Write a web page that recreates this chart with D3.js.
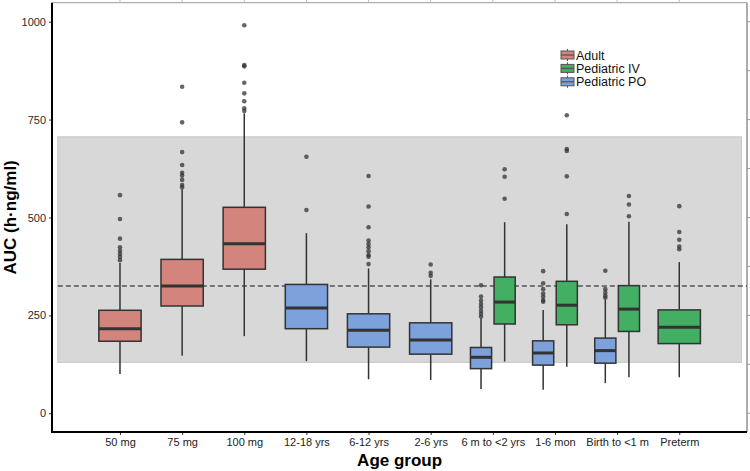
<!DOCTYPE html>
<html><head><meta charset="utf-8">
<script src="https://cdn.jsdelivr.net/npm/d3@7"></script>
<style>body{margin:0;background:#fff}svg{display:block;font-family:"Liberation Sans",Arial,sans-serif}</style>
</head><body><svg id="c" width="750" height="471"></svg>
<script>
const categories = ["50 mg","75 mg","100 mg","12-18 yrs","6-12 yrs","2-6 yrs","6 m to <2 yrs","1-6 mon","Birth to <1 m","Preterm"];
const groups = ["Adult","Pediatric IV","Pediatric PO"];
const yTicks = [0,250,500,750,1000];
// one entry per box
const boxCategory = ["50 mg","75 mg","100 mg","12-18 yrs","6-12 yrs","2-6 yrs","6 m to <2 yrs","6 m to <2 yrs","1-6 mon","1-6 mon","Birth to <1 m","Birth to <1 m","Preterm"];
const boxGroup = ["Adult","Adult","Adult","Pediatric PO","Pediatric PO","Pediatric PO","Pediatric PO","Pediatric IV","Pediatric PO","Pediatric IV","Pediatric PO","Pediatric IV","Pediatric IV"];
const whiskerLow = [100,147,197,133,87,85,62,132,60,119,77,92,92];
const q1 = [184,274,368,216,169,151,114,228,123,226,128,209,178];
const median = [216,325,433,269,212,187,143,284,154,276,160,266,220];
const q3 = [263,393,526,329,254,231,168,348,185,337,192,326,264];
const whiskerHigh = [384,572,766,460,370,342,243,488,264,483,290,489,386];
const outliers = [
  [557,496,446,424,415,407,399,391],
  [834,743,667,634,614,607,596,583,577],
  [991,889,886,844,817,797,779,772],
  [655,519],
  [606,528,475,441,432,424,414,404,400,381],
  [380,359,351],
  [327,298,288,279,271,262,254,247],
  [623,604,548],
  [363,332,317,306,298,289,285],
  [761,675,670,605,509],
  [364,317,308,300,295],
  [555,533,503],
  [529,463,443,426,419]
];
const refBand = [130,706];
const refLine = 325;

const colors = {"Adult":"#D3847D","Pediatric IV":"#43AF62","Pediatric PO":"#7DA1DB"};
const FONT = '"Liberation Sans",Arial,sans-serif';
const svg = d3.select("#c");
const L=52,R=747,T=2.7,B=432;
const x = d3.scaleLinear().domain([-0.094,11.09]).range([L,R]);
const y = d3.scaleLinear().domain([-47.8,1048.5]).range([B,T]);
const catIdx = c => categories.indexOf(c)+1;

const perCat = {};
boxCategory.forEach((c,i)=>{(perCat[c]=perCat[c]||[]).push(i);});

// frame (top/right light)
svg.append("line").attr("x1",L).attr("x2",R).attr("y1",T).attr("y2",T).attr("stroke","#9a9a9a").attr("stroke-width",1);
svg.append("line").attr("x1",R).attr("x2",R).attr("y1",T).attr("y2",B).attr("stroke","#777").attr("stroke-width",1.2);
categories.forEach(c=>{svg.append("line").attr("x1",x(catIdx(c))).attr("x2",x(catIdx(c))).attr("y1",T).attr("y2",T-3).attr("stroke","#bbb");});
d3.range(0,1001,125).forEach(v=>{svg.append("line").attr("x1",R).attr("x2",R+3).attr("y1",y(v)).attr("y2",y(v)).attr("stroke","#999");});

// reference band
svg.append("rect").attr("x",x(0)).attr("width",x(11)-x(0)).attr("y",y(refBand[1])).attr("height",y(refBand[0])-y(refBand[1]))
  .attr("fill","#d8d8d8").attr("stroke","#c6c6c6").attr("stroke-width",1);
// reference line
svg.append("line").attr("x1",x(0)).attr("x2",R).attr("y1",y(refLine)).attr("y2",y(refLine))
  .attr("stroke","#111").attr("stroke-width",1.2).attr("stroke-dasharray","5,3");

const fullW = 0.68;
boxCategory.forEach((c,i)=>{
  const list = perCat[c];
  let cx = catIdx(c), w = fullW;
  if(list.length===2){ const k=list.indexOf(i); w=0.34; cx += (k===0?-0.19:0.19); }
  const g = svg.append("g");
  const px = x(cx), hw = (x(w)-x(0))/2;
  g.append("line").attr("x1",px).attr("x2",px).attr("y1",y(whiskerLow[i])).attr("y2",y(q1[i])).attr("stroke","#333").attr("stroke-width",1.5);
  g.append("line").attr("x1",px).attr("x2",px).attr("y1",y(q3[i])).attr("y2",y(whiskerHigh[i])).attr("stroke","#333").attr("stroke-width",1.5);
  g.append("rect").attr("x",px-hw).attr("width",2*hw).attr("y",y(q3[i])).attr("height",y(q1[i])-y(q3[i]))
    .attr("fill",colors[boxGroup[i]]).attr("stroke","#333").attr("stroke-width",1.5);
  g.append("line").attr("x1",px-hw).attr("x2",px+hw).attr("y1",y(median[i])).attr("y2",y(median[i])).attr("stroke","#333").attr("stroke-width",3);
  g.selectAll("circle").data(outliers[i]).join("circle").attr("cx",px).attr("cy",d=>y(d)).attr("r",2.3)
    .attr("fill","#333").attr("fill-opacity",0.75);
});

// axes
const yAxis = svg.append("g").attr("transform",`translate(${L},0)`).call(d3.axisLeft(y).tickValues(yTicks).tickFormat(d3.format("d")).tickSize(3).tickPadding(3));
yAxis.attr("font-family",FONT);
yAxis.select(".domain").remove();
yAxis.selectAll("text").attr("font-size",11).attr("fill","#2a2a2a");
yAxis.selectAll("line").attr("stroke","#333");
const xAxis = svg.append("g").attr("transform",`translate(0,${B})`).call(d3.axisBottom(x).tickValues(d3.range(1,11)).tickFormat(d=>categories[d-1]).tickSize(3).tickPadding(3));
xAxis.attr("font-family",FONT);
xAxis.select(".domain").remove();
xAxis.selectAll("text").attr("font-size",11).attr("fill","#222");
xAxis.selectAll("line").attr("stroke","#333");
svg.append("line").attr("x1",L).attr("x2",L).attr("y1",T).attr("y2",B+1).attr("stroke","#000").attr("stroke-width",2);
svg.append("line").attr("x1",L-1).attr("x2",R).attr("y1",B).attr("y2",B).attr("stroke","#000").attr("stroke-width",2);

svg.append("text").attr("x",x(5.5)).attr("y",466).attr("text-anchor","middle").attr("font-size",17).attr("font-weight","bold").text("Age group");
svg.append("text").attr("transform",`translate(16,${(T+B)/2}) rotate(-90)`).attr("text-anchor","middle").attr("font-size",17).attr("font-weight","bold").text("AUC (h·ng/ml)");

// legend
const lg = svg.append("g").attr("transform","translate(560,55)");
groups.forEach((gname,k)=>{
  const row = lg.append("g").attr("transform",`translate(0,${k*13.4})`);
  row.append("line").attr("x1",7.5).attr("x2",7.5).attr("y1",-6).attr("y2",6).attr("stroke","#555").attr("stroke-width",1);
  row.append("rect").attr("x",1).attr("y",-4).attr("width",13).attr("height",8).attr("fill",colors[gname]).attr("stroke","#555").attr("stroke-width",1);
  row.append("line").attr("x1",1).attr("x2",14).attr("y1",0).attr("y2",0).attr("stroke","#555").attr("stroke-width",1.3);
  row.append("text").attr("x",16).attr("y",4.5).attr("font-size",12.5).attr("fill","#111").text(gname);
});
</script></body></html>
